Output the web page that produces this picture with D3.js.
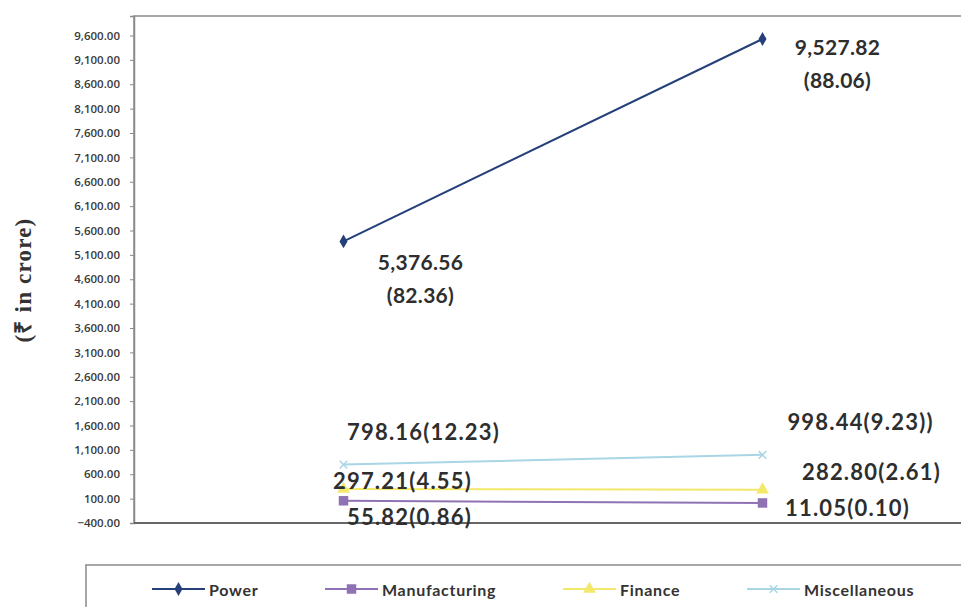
<!DOCTYPE html>
<html>
<head>
<meta charset="utf-8">
<script src="https://cdn.jsdelivr.net/npm/d3@7"></script>
<style>
  body { margin: 0; background: #fff; }
  svg { display: block; }
</style>
</head>
<body>
<svg id="chart" width="961" height="607"></svg>
<script>
// data
const categories = ["Year 1", "Year 2"];
const power = [5376.56, 9527.82];
const powerShare = [82.36, 88.06];
const manufacturing = [55.82, 11.05];
const manufacturingShare = [0.86, 0.10];
const finance = [297.21, 282.80];
const financeShare = [4.55, 2.61];
const miscellaneous = [798.16, 998.44];
const miscellaneousShare = [12.23, 9.23];
const yTicks = d3.range(-400, 9601, 500);

const fmt = d3.format(",.2f");

const series = [
  { name: "Power", values: power, share: powerShare, color: "#243f7a", marker: "diamond", twoLine: true,
    off: [[77, 20], [75, 7]] },
  { name: "Manufacturing", values: manufacturing, share: manufacturingShare, color: "#8f72b3", marker: "square",
    off: [[66, 16], [85, 5]] },
  { name: "Finance", values: finance, share: financeShare, color: "#f4e86a", marker: "triangle",
    off: [[59, -9], [109, -18]] },
  { name: "Miscellaneous", values: miscellaneous, share: miscellaneousShare, color: "#a9d6e5", marker: "cross",
    off: [[80, -33], [98, -33]], extra: ["", ")"] }
];

const svg = d3.select("#chart");
const plot = { left: 134, right: 972, top: 16, bottom: 523 };

const x = d3.scalePoint().domain(categories).range([plot.left, plot.right]).padding(0.5);
const y = d3.scaleLinear().domain([-400, 10000]).range([plot.bottom, plot.top]);

// plot area border
svg.append("rect")
  .attr("x", plot.left).attr("y", plot.top)
  .attr("width", plot.right - plot.left).attr("height", plot.bottom - plot.top)
  .attr("fill", "none").attr("stroke", "#8a8a8a").attr("stroke-width", 1.5);

// y axis
const yAxis = svg.append("g")
  .attr("transform", `translate(${plot.left},0)`)
  .call(d3.axisLeft(y).tickValues(yTicks).tickFormat(fmt).tickSize(4).tickPadding(10));
yAxis.select(".domain").attr("stroke", "#8a8a8a").attr("stroke-width", 1.5);
yAxis.selectAll(".tick line").attr("stroke", "#8a8a8a");
yAxis.selectAll(".tick text")
  .attr("fill", "#3a3a3a")
  .style("font-family", "'Open Sans', sans-serif")
  .style("font-weight", "600")
  .style("font-size", "11.5px");

// bottom axis line
svg.append("line")
  .attr("x1", plot.left).attr("x2", plot.right)
  .attr("y1", plot.bottom).attr("y2", plot.bottom)
  .attr("stroke", "#666").attr("stroke-width", 2);

// y title
svg.append("text")
  .attr("transform", `translate(23,280) rotate(-90)`)
  .attr("text-anchor", "middle")
  .attr("dominant-baseline", "central")
  .attr("fill", "#333")
  .style("font-family", "'Liberation Serif', serif")
  .style("font-weight", "bold")
  .style("font-size", "23px")
  .style("letter-spacing", "1.2px")
  .text("(₹ in crore)");

const symbolType = {
  diamond: d3.symbolDiamond, square: d3.symbolSquare,
  triangle: d3.symbolTriangle, cross: d3.symbolTimes
};
const symbolSize = { diamond: 55, square: 90, triangle: 70, cross: 40 };

const line = d3.line().x((d, i) => x(categories[i])).y(d => y(d));

// draw series (back to front)
series.slice().reverse().forEach(s => {
  const g = svg.append("g");
  g.append("path")
    .attr("d", line(s.values))
    .attr("fill", "none")
    .attr("stroke", s.color)
    .attr("stroke-width", 2);
  g.selectAll("path.marker")
    .data(s.values)
    .join("path")
    .attr("class", "marker")
    .attr("transform", (d, i) => `translate(${x(categories[i])},${y(d)})`)
    .attr("d", d3.symbol().type(symbolType[s.marker]).size(symbolSize[s.marker]))
    .attr("fill", s.marker === "cross" ? "none" : s.color)
    .attr("stroke", s.color)
    .attr("stroke-width", s.marker === "cross" ? 1.5 : 0);
});

// data labels
const labelFont = "'Lato', 'Open Sans', sans-serif";
const addLabel = (px, py, txt, size, spacing) => svg.append("text")
  .attr("x", px).attr("y", py)
  .attr("text-anchor", "middle")
  .attr("dominant-baseline", "central")
  .attr("fill", "#2e2e2e")
  .style("font-family", labelFont)
  .style("font-weight", "bold")
  .style("font-size", size)
  .style("letter-spacing", spacing)
  .text(txt);

series.forEach(s => {
  s.values.forEach((v, i) => {
    const px = x(categories[i]) + s.off[i][0];
    const py = y(v) + s.off[i][1];
    const extra = s.extra ? s.extra[i] : "";
    if (s.twoLine) {
      addLabel(px, py, fmt(v), "21px", "0.3px");
      addLabel(px, py + 33, `(${fmt(s.share[i])})`, "21px", "0.3px");
    } else {
      addLabel(px, py, `${fmt(v)}(${fmt(s.share[i])})${extra}`, "22px", "1.2px");
    }
  });
});

// legend
svg.append("rect")
  .attr("x", 86).attr("y", 565)
  .attr("width", 900).attr("height", 60)
  .attr("fill", "none").attr("stroke", "#8a8a8a").attr("stroke-width", 1.5);

const legendX = [152, 325, 563, 747];
const legend = svg.append("g").selectAll("g")
  .data(series)
  .join("g")
  .attr("transform", (d, i) => `translate(${legendX[i]},589)`);
legend.append("line")
  .attr("x1", 0).attr("x2", 53)
  .attr("stroke", d => d.color).attr("stroke-width", 2);
legend.append("path")
  .attr("transform", "translate(26.5,0)")
  .attr("d", d => d3.symbol().type(symbolType[d.marker]).size(symbolSize[d.marker])())
  .attr("fill", d => d.marker === "cross" ? "none" : d.color)
  .attr("stroke", d => d.color)
  .attr("stroke-width", d => d.marker === "cross" ? 1.5 : 0);
legend.append("text")
  .attr("x", 57)
  .attr("dominant-baseline", "central")
  .attr("fill", "#333")
  .style("font-family", labelFont)
  .style("font-weight", "bold")
  .style("font-size", "16px")
  .style("letter-spacing", "0.7px")
  .text(d => d.name);
</script>
</body>
</html>
